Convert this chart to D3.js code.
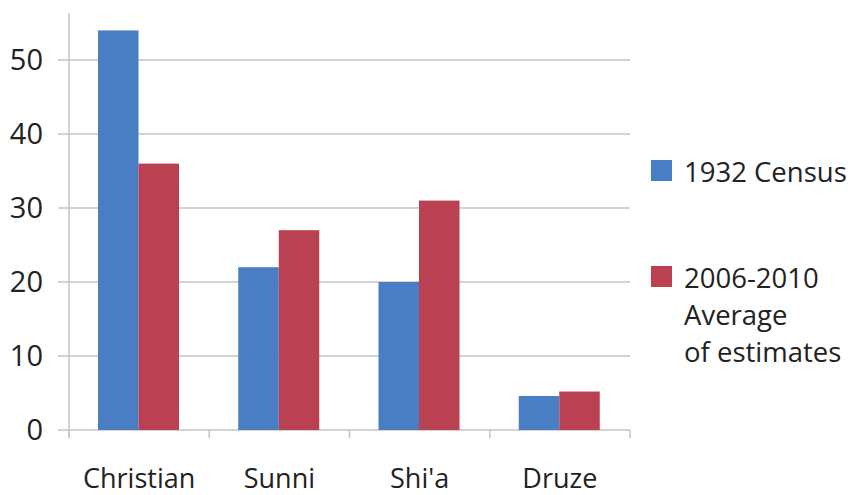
<!doctype html>
<html>
<head>
<meta charset="utf-8">
<script src="https://d3js.org/d3.v7.min.js"></script>
<style>
  body { margin: 0; background: #fff; }
  text { font-family: "Open Sans", "Noto Sans", sans-serif; fill: #222; }
</style>
</head>
<body>
<script>
// data
var categories = ["Christian", "Sunni", "Shi'a", "Druze"];
var series = ["1932 Census", "2006-2010 Average of estimates"];
var census1932 = [54, 22, 20, 4.6];
var estimates = [36, 27, 31, 5.2];
var yTicks = [0, 10, 20, 30, 40, 50];

var w = 853, h = 495;
var colors = ["#4a7ec4", "#b94152"];

var svg = d3.select("body").append("svg")
  .attr("width", w).attr("height", h);

var x = d3.scaleBand().domain(categories).range([69, 630]);
var y = d3.scaleLinear().domain([0, 50]).range([430, 60]);

// gridlines
svg.append("g").selectAll("line")
  .data(yTicks).enter().append("line")
  .attr("x1", 58).attr("x2", 630)
  .attr("y1", function(d) { return y(d); })
  .attr("y2", function(d) { return y(d); })
  .style("stroke", "#c4c4c4").style("stroke-width", 1.5);

// y axis line
svg.append("line")
  .attr("x1", 69).attr("x2", 69).attr("y1", 13).attr("y2", 437)
  .style("stroke", "#c4c4c4").style("stroke-width", 1.5);

// x ticks
var xEdges = categories.map(function(c) { return x(c); }).concat([630]);
svg.append("g").selectAll("line")
  .data(xEdges).enter().append("line")
  .attr("x1", function(d) { return d; }).attr("x2", function(d) { return d; })
  .attr("y1", 430).attr("y2", 438)
  .style("stroke", "#c4c4c4").style("stroke-width", 1.5);

// y tick labels
svg.append("g").selectAll("text")
  .data(yTicks).enter().append("text")
  .attr("x", 43).attr("y", function(d) { return y(d); })
  .attr("dy", "0.36em")
  .attr("text-anchor", "end")
  .style("font-size", "29px")
  .text(function(d) { return d; });

// x labels
svg.append("g").selectAll("text")
  .data(categories).enter().append("text")
  .attr("x", function(d) { return x(d) + x.bandwidth() / 2; })
  .attr("y", 488)
  .attr("text-anchor", "middle")
  .style("font-size", "27px")
  .text(function(d) { return d; });

// bars
var sub = d3.scaleBand().domain([0, 1]).range([29, 29 + 81]);
var data = [census1932, estimates];
data.forEach(function(vals, si) {
  svg.append("g").selectAll("rect")
    .data(vals).enter().append("rect")
    .attr("x", function(d, i) { return x(categories[i]) + sub(si); })
    .attr("width", sub.bandwidth())
    .attr("y", function(d) { return y(d); })
    .attr("height", function(d) { return y(0) - y(d); })
    .style("fill", colors[si]);
});

// legend
var leg = svg.append("g");
leg.append("rect").attr("x", 651).attr("y", 160).attr("width", 21).attr("height", 21)
  .style("fill", colors[0]);
leg.append("text").attr("x", 684).attr("y", 182).style("font-size", "27.5px")
  .text(series[0]);
leg.append("rect").attr("x", 651).attr("y", 266).attr("width", 21).attr("height", 21)
  .style("fill", colors[1]);
var t = leg.append("text").attr("x", 684).attr("y", 288).style("font-size", "27.5px");
["2006-2010", "Average", "of estimates"].forEach(function(line, i) {
  t.append("tspan").attr("x", 684).attr("dy", i === 0 ? 0 : 37).text(line);
});
</script>
</body>
</html>
